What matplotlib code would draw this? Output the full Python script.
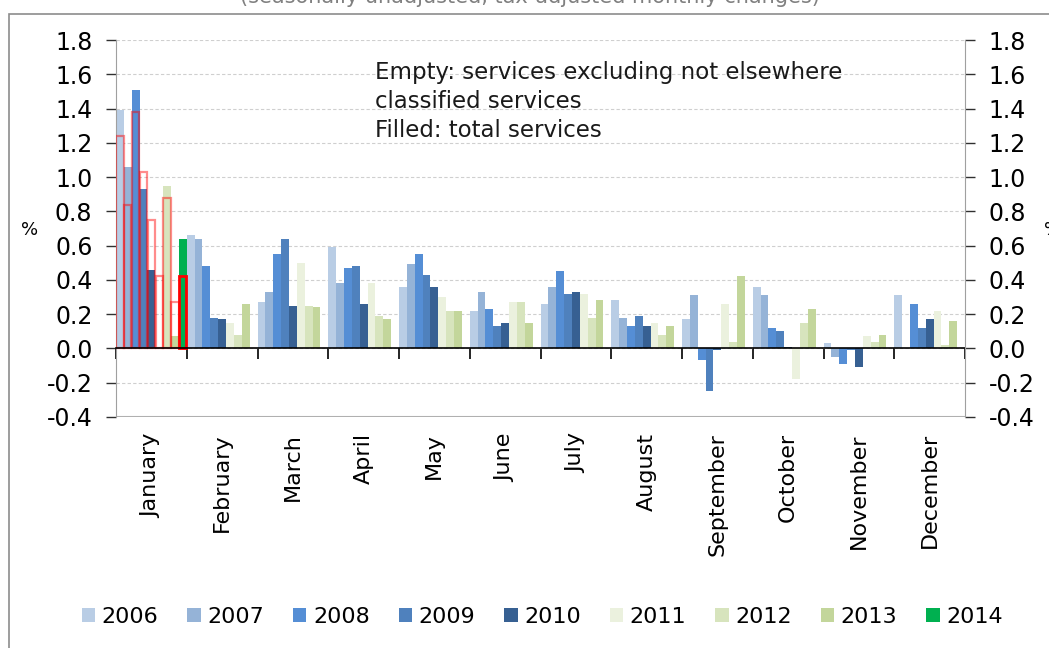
import matplotlib
matplotlib.use('Agg')
import matplotlib.pyplot as plt
import matplotlib.ticker as mticker
from matplotlib.patches import Rectangle
import numpy as np

# --- data ---
months = ['January', 'February', 'March', 'April', 'May', 'June', 'July',
          'August', 'September', 'October', 'November', 'December']
years = ['2006', '2007', '2008', '2009', '2010', '2011', '2012', '2013', '2014']

v2006 = [1.39, 0.66, 0.27, 0.59, 0.36, 0.22, 0.26, 0.28, 0.17, 0.36, 0.03, 0.31]
v2007 = [1.06, 0.64, 0.33, 0.38, 0.49, 0.33, 0.36, 0.18, 0.31, 0.31, -0.05, 0.0]
v2008 = [1.51, 0.48, 0.55, 0.47, 0.55, 0.23, 0.45, 0.13, -0.07, 0.12, -0.09, 0.26]
v2009 = [0.93, 0.18, 0.64, 0.48, 0.43, 0.13, 0.32, 0.19, -0.25, 0.10, -0.01, 0.12]
v2010 = [0.46, 0.17, 0.25, 0.26, 0.36, 0.15, 0.33, 0.13, -0.01, 0.01, -0.11, 0.17]
v2011 = [0.0, 0.15, 0.50, 0.38, 0.30, 0.27, 0.32, 0.15, 0.26, -0.18, 0.07, 0.22]
v2012 = [0.95, 0.08, 0.25, 0.19, 0.22, 0.27, 0.18, 0.08, 0.04, 0.15, 0.04, 0.02]
v2013 = [0.07, 0.26, 0.24, 0.17, 0.22, 0.15, 0.28, 0.13, 0.42, 0.23, 0.08, 0.16]
v2014 = [0.64] + [np.nan] * 11

# January: services excluding n.e.c. services (empty bars)
jan_excl = [1.24, 0.84, 1.38, 1.03, 0.75, 0.42, 0.88, 0.27, 0.42]

yticks = [-0.4, -0.2, 0.0, 0.2, 0.4, 0.6, 0.8, 1.0, 1.2, 1.4, 1.6, 1.8]

series = [v2006, v2007, v2008, v2009, v2010, v2011, v2012, v2013, v2014]
colors = ['#B9CDE5', '#95B3D7', '#558ED5', '#4F81BD', '#376092',
          '#EBF1DE', '#D7E4BD', '#C3D69B', '#00B050']

# --- figure ---
fig = plt.figure(figsize=(10.49, 6.48), dpi=100)
ax = fig.add_axes([116 / 1049, 1 - 417 / 648, (965 - 116) / 1049, (417 - 40) / 648])

x = np.arange(len(months))
w = 1.0 / len(years)
for j, (vals, col) in enumerate(zip(series, colors)):
    ax.bar(x + (j - 4) * w, vals, width=w, color=col, edgecolor='none',
           label=years[j], zorder=2)

# empty bars, January only
for j, v in enumerate(jan_excl):
    last = j == len(jan_excl) - 1
    ax.bar(0 + (j - 4) * w, v, width=w * 0.92, fill=False,
           edgecolor='red' if last else (1, 0, 0, 0.45),
           linewidth=2.0 if last else 1.6, zorder=3)

ax.set_xlim(-0.5, 11.5)
ax.set_ylim(-0.4, 1.8)
ax.set_yticks(yticks)
fmt = mticker.FuncFormatter(lambda v, p: f'{v:.1f}')
ax.yaxis.set_major_formatter(fmt)

# grid
ax.yaxis.grid(True, linestyle=(0, (3, 2)), color='#CFCFCF', linewidth=0.8)
ax.set_axisbelow(True)

# spines
ax.spines['top'].set_visible(False)
ax.spines['right'].set_visible(False)
ax.spines['left'].set_color('#A0A0A0')
ax.spines['bottom'].set_position(('data', 0))
ax.spines['bottom'].set_color('black')
ax.spines['bottom'].set_linewidth(1.2)
ax.spines['bottom'].set_zorder(4)
ax.axhline(-0.4, color='#B0B0B0', linewidth=1.5, zorder=1)

# x ticks: labels at month centres, marks at boundaries
ax.set_xticks(x)
ax.set_xticklabels(months, rotation=90, fontsize=16)
ax.set_xticks(np.arange(-0.5, 12.0, 1.0), minor=True)
ax.tick_params(axis='x', which='major', length=0, pad=61)
ax.tick_params(axis='x', which='minor', length=8, width=1.2, color='black', direction='out')
ax.tick_params(axis='y', labelsize=17, length=7, width=1, color='#303030', pad=10)

# right axis
ax2 = ax.twinx()
ax2.set_ylim(-0.4, 1.8)
ax2.set_yticks(yticks)
ax2.yaxis.set_major_formatter(fmt)
for s in ('top', 'bottom', 'left'):
    ax2.spines[s].set_visible(False)
ax2.spines['right'].set_color('#A0A0A0')
ax2.tick_params(axis='y', labelsize=17, length=7, width=1, color='#303030', pad=10)

# annotation
ax.text(375 / 1049, 1 - 61 / 648, 'Empty: services excluding not elsewhere\nclassified services\nFilled: total services',
        transform=fig.transFigure, fontsize=16.5, va='top', ha='left', linespacing=1.32,
        color='#1A1A1A')

# % labels
fig.text(30 / 1049, 1 - 230 / 648, '%', fontsize=13, ha='center', va='center')
fig.text(1044 / 1049, 1 - 230 / 648, '%', fontsize=13, ha='left', va='center')

# title (cut off at top edge, as in the source)
fig.text(0.505, 1 - 3 / 648, '(seasonally unadjusted, tax-adjusted monthly changes)',
         fontsize=15, ha='center', va='baseline', color='#808080')

# outer frame
fig.patches.append(Rectangle((9 / 1049, -0.2), 1.2, 1.2 - 14 / 648,
                             transform=fig.transFigure, fill=False,
                             edgecolor='#8C8C8C', linewidth=1.2))

# legend
handles, labels = ax.get_legend_handles_labels()
fig.legend(handles, labels, loc='center', bbox_to_anchor=(0.517, 1 - 617 / 648),
           ncol=9, frameon=False, fontsize=16, handlelength=0.6, handleheight=0.6,
           handletextpad=0.3, columnspacing=1.3)

plt.savefig('out.png', dpi=100)
